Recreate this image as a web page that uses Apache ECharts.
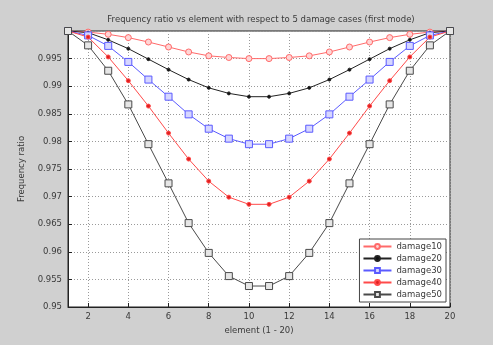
<!DOCTYPE html>
<html>
<head>
<meta charset="utf-8">
<script src="https://cdn.jsdelivr.net/npm/echarts@6/dist/echarts.min.js"></script>
<style>
  html, body { margin: 0; padding: 0; background: #d0d0d0; }
  #chart { width: 493px; height: 345px; }
</style>
</head>
<body>
<div id="chart"></div>
<script>
let elements = [1, 2, 3, 4, 5, 6, 7, 8, 9, 10, 11, 12, 13, 14, 15, 16, 17, 18, 19, 20];
let xTicks = [2, 4, 6, 8, 10, 12, 14, 16, 18, 20];

let damage10 = [1.0, 0.9998, 0.9994, 0.9988, 0.998, 0.9971, 0.9962, 0.9955, 0.9952, 0.995,
  0.995, 0.9952, 0.9955, 0.9962, 0.9971, 0.998, 0.9988, 0.9994, 0.9998, 1.0];
let damage20 = [1.0, 0.9997, 0.9984, 0.9968, 0.9949, 0.993, 0.9912, 0.9897, 0.9887, 0.9881,
  0.9881, 0.9887, 0.9897, 0.9912, 0.993, 0.9949, 0.9968, 0.9984, 0.9997, 1.0];
let damage30 = [1.0, 0.9992, 0.9973, 0.9944, 0.9912, 0.9881, 0.9849, 0.9823, 0.9805, 0.9795,
  0.9795, 0.9805, 0.9823, 0.9849, 0.9881, 0.9912, 0.9944, 0.9973, 0.9992, 1.0];
let damage40 = [1.0, 0.9989, 0.9953, 0.991, 0.9864, 0.9815, 0.9768, 0.9728, 0.9699, 0.9686,
  0.9686, 0.9699, 0.9728, 0.9768, 0.9815, 0.9864, 0.991, 0.9953, 0.9989, 1.0];
let damage50 = [1.0, 0.9974, 0.9928, 0.9867, 0.9795, 0.9724, 0.9652, 0.9598, 0.9556, 0.9538,
  0.9538, 0.9556, 0.9598, 0.9652, 0.9724, 0.9795, 0.9867, 0.9928, 0.9974, 1.0];

function pairs(vals) {
  return elements.map((x, i) => [x, vals[i]]);
}

function makeSeries(name, vals, line, fill, symbol, size) {
  return {
    name: name,
    type: "line",
    data: pairs(vals),
    symbol: symbol,
    symbolSize: size,
    clip: false,
    lineStyle: { color: line, width: 1 },
    itemStyle: { color: fill, borderColor: line, borderWidth: 1 },
    emphasis: { disabled: true },
    animation: false
  };
}

let txt = "#3a3a3a";
var myChart = echarts.init(document.getElementById("chart"));
myChart.setOption({
  backgroundColor: "#d0d0d0",
  textStyle: { fontFamily: "DejaVu Sans" },
  title: {
    text: "Frequency ratio vs element with respect to 5 damage cases (first mode)",
    left: 256,
    top: 10,
    textAlign: "center",
    textStyle: { fontSize: 8.5, fontWeight: "normal", color: txt }
  },
  grid: {
    left: 68,
    right: 43,
    top: 31,
    bottom: 38,
    show: true,
    backgroundColor: "#ffffff",
    borderColor: "#222",
    borderWidth: 1
  },
  legend: {
    orient: "vertical",
    right: 47,
    top: 239,
    backgroundColor: "#ffffff",
    borderColor: "#444",
    borderWidth: 1,
    borderRadius: 0,
    padding: [3, 4, 3, 3],
    itemGap: 3,
    itemWidth: 28,
    itemHeight: 6,
    textStyle: { fontSize: 8.5, color: txt },
    data: ["damage10", "damage20", "damage30", "damage40", "damage50"]
  },
  xAxis: {
    type: "value",
    min: 1,
    max: 20,
    name: "element (1 - 20)",
    nameLocation: "middle",
    nameGap: 17,
    nameTextStyle: { fontSize: 8.5, color: txt },
    axisLine: { lineStyle: { color: "#222" } },
    axisTick: { inside: true, length: 4, customValues: xTicks, lineStyle: { color: "#222" } },
    axisLabel: { customValues: xTicks, fontSize: 8.5, color: txt, margin: 5 },
    splitLine: { show: true, lineStyle: { color: "#9a9a9a", type: [1, 2] } }
  },
  yAxis: {
    type: "value",
    min: 0.95,
    max: 1.0,
    interval: 0.005,
    name: "Frequency ratio",
    nameLocation: "middle",
    nameGap: 40,
    nameTextStyle: { fontSize: 8.5, color: txt },
    axisLine: { show: true, lineStyle: { color: "#222" } },
    axisTick: { show: true, inside: true, length: 4, lineStyle: { color: "#222" } },
    axisLabel: { fontSize: 8.5, color: txt, margin: 6, showMaxLabel: false },
    splitLine: { show: true, lineStyle: { color: "#9a9a9a", type: [1, 2] } }
  },
  series: [
    makeSeries("damage10", damage10, "#ff6a6a", "#ffd6d6", "circle", 6),
    makeSeries("damage20", damage20, "#222222", "#111111", "circle", 3),
    makeSeries("damage30", damage30, "#5a5aff", "#d6d6ff", "rect", 7),
    makeSeries("damage40", damage40, "#ff4a4a", "#e02020", "circle", 4),
    makeSeries("damage50", damage50, "#4a4a4a", "#e6e6e6", "rect", 7)
  ]
});
</script>
</body>
</html>
